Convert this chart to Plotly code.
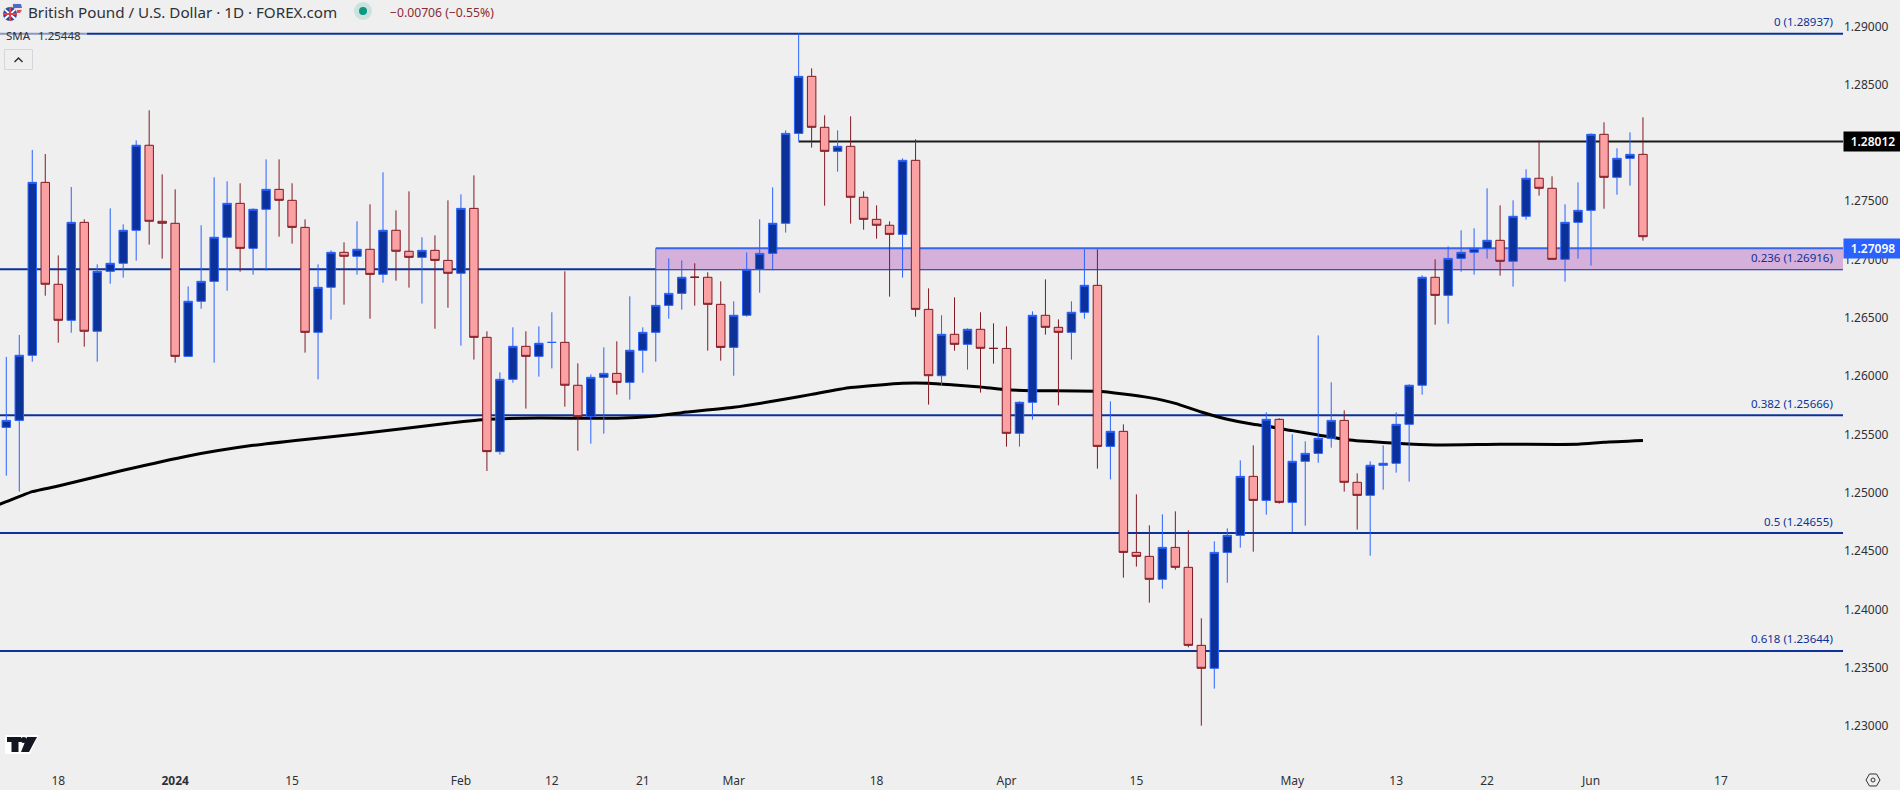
from __future__ import annotations

import pandas as pd
import plotly.graph_objects as go

BACKGROUND = "#efefef"
TEXT_COLOR = "#2e3138"
FIB_COLOR = "#0c3299"
FONT = "Noto Sans"
WIDTH = 1900
HEIGHT = 790
PANE_RIGHT = 1843
PANE_BOTTOM = 760

# GBP/USD daily bars, oldest first
OPENS = [
    1.25561, 1.25621, 1.26179, 1.27662, 1.26788, 1.26479, 1.27319, 1.26385, 1.26899, 1.26968,
    1.27251, 1.27980, 1.27328, 1.27311, 1.26170, 1.26642, 1.26813, 1.27191, 1.27482, 1.27096,
    1.27431, 1.27602, 1.27508, 1.27276, 1.26376, 1.26762, 1.27062, 1.27028, 1.27088, 1.26873,
    1.27251, 1.27071, 1.27019, 1.27079, 1.26993, 1.26882, 1.27439, 1.26333, 1.25353, 1.25973,
    1.26256, 1.26170, 1.26289, 1.26290, 1.25922, 1.25653, 1.25990, 1.26024, 1.25947, 1.26222,
    1.26376, 1.26607, 1.26710, 1.26849, 1.26848, 1.26616, 1.26247, 1.26522, 1.26916, 1.27053,
    1.27311, 1.28082, 1.28571, 1.28134, 1.27928, 1.27971, 1.27534, 1.27345, 1.27294, 1.27216,
    1.27851, 1.26573, 1.26004, 1.26359, 1.26273, 1.26402, 1.26239, 1.26238, 1.25510, 1.25776,
    1.26522, 1.26419, 1.26376, 1.26548, 1.26779, 1.25398, 1.25527, 1.24489, 1.24455, 1.24258,
    1.24532, 1.24361, 1.23692, 1.23495, 1.24489, 1.24635, 1.25141, 1.24935, 1.25630, 1.24918,
    1.25270, 1.25338, 1.25467, 1.25621, 1.25090, 1.24978, 1.25236, 1.25253, 1.25587, 1.25922,
    1.26848, 1.26693, 1.27010, 1.27062, 1.27096, 1.27165, 1.26985, 1.27371, 1.27697, 1.27611,
    1.27002, 1.27319, 1.27422, 1.28074, 1.27705, 1.27868, 1.27902,
]
HIGHS = [
    1.26165, 1.26353, 1.27940, 1.27905, 1.27036, 1.27622, 1.27345, 1.26959, 1.27439, 1.27302,
    1.28022, 1.28280, 1.27731, 1.27602, 1.26770, 1.27294, 1.27705, 1.27671, 1.27654, 1.27439,
    1.27859, 1.27859, 1.27654, 1.27345, 1.26959, 1.27079, 1.27148, 1.27328, 1.27474, 1.27748,
    1.27422, 1.27585, 1.27191, 1.27208, 1.27508, 1.27559, 1.27722, 1.26385, 1.26033, 1.26419,
    1.26385, 1.26427, 1.26548, 1.26899, 1.26110, 1.26016, 1.26247, 1.26299, 1.26685, 1.26419,
    1.27096, 1.27010, 1.26993, 1.26968, 1.26891, 1.26813, 1.26642, 1.27062, 1.27345, 1.27619,
    1.28108, 1.28937, 1.28640, 1.28237, 1.28108, 1.28228, 1.27585, 1.27465, 1.27328, 1.27868,
    1.28031, 1.26753, 1.26522, 1.26676, 1.26410, 1.26548, 1.26453, 1.26427, 1.25784, 1.26556,
    1.26830, 1.26487, 1.26642, 1.27088, 1.27088, 1.25784, 1.25587, 1.24987, 1.24721, 1.24815,
    1.24841, 1.24678, 1.23924, 1.24584, 1.24695, 1.25278, 1.25407, 1.25690, 1.25639, 1.25501,
    1.25441, 1.26350, 1.25947, 1.25707, 1.25167, 1.25270, 1.25407, 1.25690, 1.25930, 1.26865,
    1.27002, 1.27113, 1.27251, 1.27268, 1.27611, 1.27465, 1.27508, 1.27774, 1.28020, 1.27714,
    1.27474, 1.27662, 1.28082, 1.28177, 1.27954, 1.28091, 1.28220,
]
LOWS = [
    1.25147, 1.25010, 1.26124, 1.26690, 1.26287, 1.26373, 1.26253, 1.26124, 1.26793, 1.26845,
    1.26991, 1.27128, 1.27008, 1.26116, 1.26170, 1.26579, 1.26116, 1.26733, 1.26896, 1.26871,
    1.26905, 1.27196, 1.27136, 1.26202, 1.25973, 1.26485, 1.26613, 1.26871, 1.26493, 1.26802,
    1.26819, 1.26759, 1.26622, 1.26407, 1.26587, 1.26262, 1.26142, 1.25187, 1.25327, 1.25944,
    1.25722, 1.25996, 1.26067, 1.25739, 1.25361, 1.25421, 1.25507, 1.25842, 1.25799, 1.26030,
    1.26124, 1.26493, 1.26570, 1.26605, 1.26219, 1.26133, 1.26004, 1.26510, 1.26716, 1.26908,
    1.27231, 1.28017, 1.27960, 1.27462, 1.27754, 1.27308, 1.27256, 1.27179, 1.26682, 1.26845,
    1.26510, 1.25756, 1.25916, 1.26219, 1.26056, 1.25859, 1.26107, 1.25396, 1.25396, 1.25627,
    1.26356, 1.25750, 1.26142, 1.26493, 1.25207, 1.25115, 1.24272, 1.24367, 1.24058, 1.24178,
    1.24341, 1.23675, 1.23003, 1.23321, 1.24229, 1.24530, 1.24495, 1.24813, 1.24907, 1.24661,
    1.24718, 1.25258, 1.25387, 1.25010, 1.24684, 1.24461, 1.25027, 1.25173, 1.25096, 1.25842,
    1.26442, 1.26450, 1.26896, 1.26871, 1.27008, 1.26862, 1.26768, 1.27342, 1.27548, 1.27002,
    1.26810, 1.27008, 1.26948, 1.27436, 1.27556, 1.27634, 1.27162,
]
CLOSES = [
    1.25621, 1.26179, 1.27662, 1.26788, 1.26479, 1.27319, 1.26385, 1.26899, 1.26968, 1.27251,
    1.27980, 1.27328, 1.27311, 1.26170, 1.26642, 1.26813, 1.27191, 1.27482, 1.27096, 1.27431,
    1.27602, 1.27508, 1.27276, 1.26376, 1.26762, 1.27062, 1.27028, 1.27088, 1.26873, 1.27251,
    1.27071, 1.27019, 1.27079, 1.26993, 1.26882, 1.27439, 1.26333, 1.25353, 1.25973, 1.26256,
    1.26170, 1.26282, 1.26290, 1.25922, 1.25653, 1.25990, 1.26024, 1.25947, 1.26222, 1.26376,
    1.26607, 1.26710, 1.26848, 1.26848, 1.26616, 1.26247, 1.26522, 1.26916, 1.27053, 1.27311,
    1.28082, 1.28571, 1.28134, 1.27928, 1.27971, 1.27534, 1.27345, 1.27294, 1.27216, 1.27851,
    1.26573, 1.26004, 1.26359, 1.26273, 1.26402, 1.26239, 1.26238, 1.25510, 1.25776, 1.26522,
    1.26419, 1.26376, 1.26548, 1.26779, 1.25398, 1.25527, 1.24489, 1.24455, 1.24258, 1.24532,
    1.24361, 1.23692, 1.23495, 1.24489, 1.24635, 1.25141, 1.24935, 1.25630, 1.24918, 1.25270,
    1.25338, 1.25467, 1.25621, 1.25090, 1.24978, 1.25236, 1.25253, 1.25587, 1.25922, 1.26848,
    1.26693, 1.27010, 1.27062, 1.27096, 1.27165, 1.26985, 1.27371, 1.27697, 1.27611, 1.27002,
    1.27319, 1.27422, 1.28074, 1.27705, 1.27868, 1.27902, 1.27196,
]

# SMA read at these sessions (position in SESSIONS), the line runs behind the candles
SMA_SESSIONS = [
    0, 1, 3, 5, 10, 15, 20, 24, 28, 35, 38, 42, 48, 51, 53, 57, 61, 63, 66, 70, 72, 74, 76, 78,
    80, 85, 87, 89, 91, 93, 95, 97, 98, 100, 102, 104, 106, 108, 111, 116, 122, 124, 127,
]
SMA_VALUES = [
    1.24881, 1.24924, 1.25010, 1.25058, 1.25193, 1.25316, 1.25407, 1.25458, 1.25504, 1.25596,
    1.25630, 1.25641, 1.25639, 1.25659, 1.25687, 1.25733, 1.25804, 1.25844, 1.25902, 1.25939,
    1.25939, 1.25924, 1.25907, 1.25884, 1.25876, 1.25870, 1.25847, 1.25816, 1.25767, 1.25693,
    1.25630, 1.25587, 1.25573, 1.25533, 1.25496, 1.25458, 1.25439, 1.25424, 1.25410, 1.25416,
    1.25416, 1.25433, 1.25448,
]

FIB_LEVELS = [1.28937, 1.26916, 1.25666, 1.24655, 1.23644]
FIB_LABELS = ["0 (1.28937)", "0.236 (1.26916)", "0.382 (1.25666)", "0.5 (1.24655)", "0.618 (1.23644)"]
RESISTANCE = 1.28012
ZONE_TOP = 1.27098
ZONE_BOTTOM = 1.26916
LAST_PRICE = 1.25448

# 1.28000 sits behind the black price tag in the picture, so it is left out
PRICE_TICKS = [1.23, 1.235, 1.24, 1.245, 1.25, 1.255, 1.26, 1.265, 1.27, 1.275, 1.285, 1.29]
DATE_TICKS = [
    "2023-12-18", "2024-01-02", "2024-01-15", "2024-02-01", "2024-02-12", "2024-02-21",
    "2024-03-01", "2024-03-18", "2024-04-01", "2024-04-15", "2024-05-01", "2024-05-13",
    "2024-05-22", "2024-06-03", "2024-06-17",
]
DATE_LABELS = [
    "18", "<b>2024</b>", "15", "Feb", "12", "21", "Mar", "18", "Apr", "15", "May", "13", "22",
    "Jun", "17",
]

days = pd.bdate_range("2023-12-11", "2024-07-05").strftime("%Y-%m-%d").to_list()
SESSIONS = [day for day in days if day not in ("2023-12-25", "2024-01-01")]
CANDLE_DATES = SESSIONS[1:128]


def paper_x(x: float) -> float:
    """Pasa un pixel horizontal de la pagina a coordenada paper."""
    return x / PANE_RIGHT


def paper_y(y: float) -> float:
    """Pasa un pixel vertical de la pagina a coordenada paper."""
    return 1 - y / PANE_BOTTOM


def text_note(x, y, text, color=TEXT_COLOR, size=12, anchor="left", **extra) -> dict:
    return {
        "xref": "paper",
        "yref": "paper",
        "x": paper_x(x),
        "y": paper_y(y),
        "text": text,
        "showarrow": False,
        "xanchor": anchor,
        "yanchor": "middle",
        "font": {"family": FONT, "size": size, "color": color},
        **extra,
    }


def circle(cx, cy, r, fill, line=None) -> dict:
    return {
        "type": "circle",
        "xref": "paper",
        "yref": "paper",
        "x0": paper_x(cx - r),
        "x1": paper_x(cx + r),
        "y0": paper_y(cy + r),
        "y1": paper_y(cy - r),
        "fillcolor": fill,
        "line": {"width": 0} if line is None else line,
    }


def poly(points, fill=None, line=None, closed=True) -> dict:
    path = " ".join(
        f"{'M' if n == 0 else 'L'} {paper_x(x):.5f} {paper_y(y):.5f}" for n, (x, y) in enumerate(points)
    )
    return {
        "type": "path",
        "xref": "paper",
        "yref": "paper",
        "path": path + (" Z" if closed else ""),
        "fillcolor": fill if fill else "rgba(0,0,0,0)",
        "line": {"width": 0} if line is None else line,
    }


def price_tag(price, text, color) -> dict:
    return {
        "xref": "paper",
        "yref": "y",
        "x": 1,
        "y": price,
        "text": text,
        "showarrow": False,
        "xanchor": "left",
        "yanchor": "middle",
        "width": 56,
        "height": 17,
        "bgcolor": color,
        "font": {"family": FONT, "size": 12, "color": "#ffffff", "weight": 600},
    }


def level_line(price, color, x0=0, xref="paper", width=2) -> dict:
    return {
        "type": "line",
        "layer": "below",
        "xref": xref,
        "yref": "y",
        "x0": x0,
        "x1": 1 if xref == "paper" else SESSIONS[-1],
        "y0": price,
        "y1": price,
        "line": {"color": color, "width": width},
    }


x_range = [0.515, 142.4]
y_range = [1.227088, 1.292257]

figure = go.Figure()
figure.add_trace(
    go.Scatter(
        x=[SESSIONS[n] for n in SMA_SESSIONS],
        y=SMA_VALUES,
        mode="lines",
        line={"color": "#000000", "width": 3, "shape": "spline", "smoothing": 0.5},
        xaxis="x",
        yaxis="y",
        showlegend=False,
        hoverinfo="skip",
    )
)
figure.add_trace(
    go.Candlestick(
        x=CANDLE_DATES,
        open=OPENS,
        high=HIGHS,
        low=LOWS,
        close=CLOSES,
        increasing={"line": {"color": "#2962ff", "width": 1}, "fillcolor": "#0c3299"},
        decreasing={"line": {"color": "#801922", "width": 1}, "fillcolor": "#faa1a4"},
        whiskerwidth=0,
        xaxis="x2",
        yaxis="y2",
        showlegend=False,
    )
)

shapes = [
    {
        "type": "rect",
        "layer": "below",
        "xref": "x",
        "yref": "y",
        "x0": SESSIONS[51],
        "x1": SESSIONS[-1],
        "y0": ZONE_BOTTOM,
        "y1": ZONE_TOP,
        "fillcolor": "#d5b0db",
        "line": {"width": 0},
    },
    level_line(ZONE_TOP, "#3567ee", x0=SESSIONS[51], xref="x"),
    level_line(RESISTANCE, "#1a1a1a", x0=SESSIONS[62], xref="x"),
]
shapes += [level_line(price, FIB_COLOR) for price in FIB_LEVELS]

# Cabecera y adornos de la plataforma
shapes += [
    {
        "type": "rect",
        "xref": "paper",
        "yref": "paper",
        "x0": 0,
        "x1": paper_x(87),
        "y0": paper_y(43),
        "y1": paper_y(28),
        "fillcolor": "rgba(239,239,239,0.55)",
        "line": {"width": 0},
    },
    {
        "type": "rect",
        "xref": "paper",
        "yref": "paper",
        "x0": paper_x(4.5),
        "x1": paper_x(32.5),
        "y0": paper_y(69.5),
        "y1": paper_y(49.5),
        "fillcolor": "rgba(0,0,0,0)",
        "line": {"color": "#d4d6dc", "width": 1},
    },
    poly([(14.5, 62), (18.5, 58), (22.5, 62)], line={"color": "#2e3138", "width": 1.5}, closed=False),
    circle(363, 11, 9, "rgba(8,153,129,0.15)"),
    circle(363, 11, 4, "#089981"),
    circle(16, 8, 6, "#f2e4e4"),
    poly([(13, 4), (21, 4), (22, 8), (13, 8)], fill="#4a6fc0"),
    poly([(17, 10), (22, 10), (20, 13), (17, 13)], fill="#e0505a"),
    circle(10, 14, 7, "#2f4a9e"),
    poly([(4, 10), (5.5, 9), (16, 18), (14.5, 19.5)], fill="#ffffff"),
    poly([(14.5, 9), (16, 10), (5.5, 19.5), (4, 18)], fill="#ffffff"),
    poly([(9, 7), (11, 7), (11, 21), (9, 21)], fill="#e0404a"),
    poly([(3, 13), (17, 13), (17, 15), (3, 15)], fill="#e0404a"),
    poly([(5, 735), (39, 735), (30, 754), (5, 754)], fill="#ffffff"),
    poly([(7, 737), (21, 737), (21, 742), (18.5, 742), (18.5, 752), (11.5, 752), (11.5, 742), (7, 742)], fill="#131722"),
    poly([(27, 737), (37, 737), (29, 752), (21, 752)], fill="#131722"),
    circle(23.7, 740, 3, "#131722"),
    poly(
        [(1866, 780), (1869.5, 774), (1876.5, 774), (1880, 780), (1876.5, 786), (1869.5, 786)],
        line={"color": "#2e3138", "width": 1},
    ),
    circle(1873, 780, 2, "rgba(0,0,0,0)", line={"color": "#2e3138", "width": 1}),
]

annotations = [
    text_note(26, 12, "British Pound / U.S. Dollar · 1D · FOREX.com", size=15.2),
    text_note(388, 12, "−0.00706 (−0.55%)", color="#8a2a35", size=12.2),
    text_note(4, 35.5, "SMA", size=11.5),
    text_note(36, 35.5, "1.25448", size=11.5),
]
for price, label in zip(FIB_LEVELS, FIB_LABELS, strict=True):
    annotations.append(
        {
            "xref": "paper",
            "yref": "y",
            "x": paper_x(1835),
            "y": price,
            "yshift": 12,
            "text": label,
            "showarrow": False,
            "xanchor": "right",
            "yanchor": "middle",
            "font": {"family": FONT, "size": 11.5, "color": FIB_COLOR},
        }
    )
annotations.append(price_tag(RESISTANCE, "1.28012", "#000000"))
annotations.append(price_tag(ZONE_TOP, "1.27098", "#2962ff"))

figure.update_layout(
    width=WIDTH,
    height=HEIGHT,
    margin={"l": 0, "r": WIDTH - PANE_RIGHT, "t": 0, "b": HEIGHT - PANE_BOTTOM, "pad": 0},
    paper_bgcolor=BACKGROUND,
    plot_bgcolor=BACKGROUND,
    font={"family": FONT, "size": 12, "color": TEXT_COLOR},
    boxgap=0.07,
    showlegend=False,
    shapes=shapes,
    annotations=annotations,
    xaxis={
        "type": "category",
        "categoryorder": "array",
        "categoryarray": SESSIONS,
        "range": x_range,
        "automargin": False,
        "tickmode": "array",
        "tickvals": DATE_TICKS,
        "ticktext": DATE_LABELS,
        "ticks": "outside",
        "ticklen": 10,
        "tickcolor": "rgba(0,0,0,0)",
        "showgrid": False,
        "zeroline": False,
        "showline": False,
        "rangeslider": {"visible": False},
    },
    xaxis2={
        "type": "category",
        "categoryorder": "array",
        "categoryarray": SESSIONS,
        "range": x_range,
        "overlaying": "x",
        "visible": False,
        "rangeslider": {"visible": False},
    },
    yaxis={
        "side": "right",
        "range": y_range,
        "automargin": False,
        "tickmode": "array",
        "tickvals": PRICE_TICKS,
        "tickformat": ".5f",
        "ticklen": 8,
        "tickcolor": "rgba(0,0,0,0)",
        "showgrid": False,
        "zeroline": False,
        "showline": False,
    },
    yaxis2={"range": y_range, "overlaying": "y", "side": "right", "visible": False},
)

figure.write_html(
    "out.html",
    config={"displayModeBar": False},
    post_script="document.body.style.margin = '0';",
)
